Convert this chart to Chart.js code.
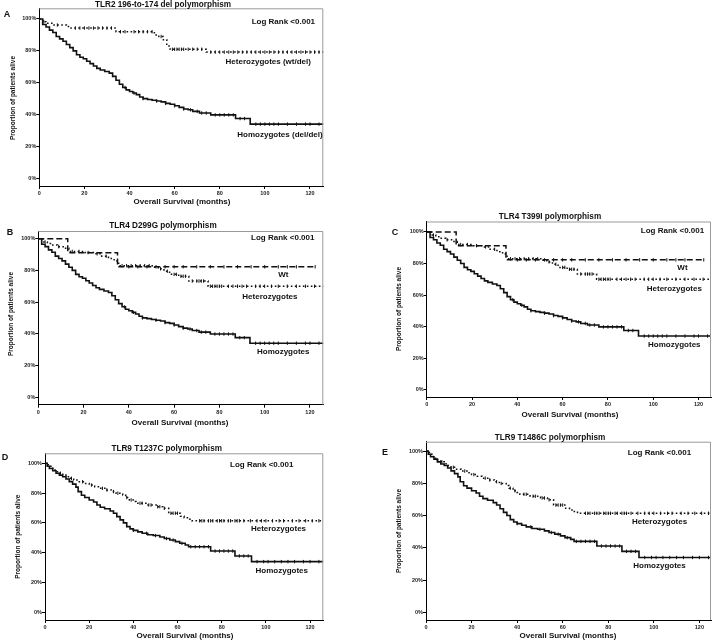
<!DOCTYPE html>
<html><head><meta charset="utf-8">
<script src="https://cdn.jsdelivr.net/npm/chart.js@4.4.1/dist/chart.umd.min.js"></script>
<style>html,body{margin:0;padding:0;background:#fff;}#wrap{position:relative;width:716px;height:642px;overflow:hidden;background:#fff;}canvas{position:absolute;left:0;top:0;}</style>
</head><body><div id="wrap"></div>
<script>
// ---- tick labels ----
const xTicks = [0,20,40,60,80,100,120];
const yTicks = [0,20,40,60,80,100];

// ---- Homozygotes (panels A, B, C) ----
const homoABC_t = [0,1.5,3,4.5,6,7.5,9,10.5,12,13.5,15,16.5,18,19.5,21,22.5,24,25.5,27,29,31,32.5,34,35.5,37,38.5,40,41.5,43,44.5,46,48,50,52,54,56,58,60,62,64,66,68,71,76,87,93.5];
const homoABC_s = [100,96.5,95,93,91.5,89,87.5,86,84,82,80,77.5,76,75,73.5,72,70.5,69,68,67,66,64,61.5,59,57,55.5,54.5,53.5,52.5,51,50,49.5,49,48.5,48,47,46.5,45.5,44.5,43.5,43,42,41,39.8,37.5,34];
const homoABC_c = [38,42,46,52,56,60,64,67,70,72,74,78,80,82,84,86,89,91,96,98,100,102,104,106,110,114,118,120,124];
const homoABC_end = 126;

// ---- Heterozygotes (wt/del), panel A ----
const hetA_t = [0,1.5,3,6,12,14,34,51,53,55,56.5,58,74];
const hetA_s = [100,98.3,97.3,96.2,95.2,94.3,92,90,89,87,83,81,79.2];
const hetA_c = [2,8,16,18,20,22,24,26,28,30,32,36,38,42,44,46,48,50,54,59,60,61,62,63,64,66,68,70,72,76,78,80,82,84,86,88,90,92,94,96,98,100,102,104,106,108,110,112,114,116,118,120,122,124];
const hetA_end = 126;

// ---- Wt (panels B, C) ----
const wt_t = [0,13,35];
const wt_s = [100,91.2,82.3];
const wt_c = [40,44,48,52,56,60,64,70,76,82,88,94,100,106,110,114,122.3];
const wt_end = 122.3;

// ---- Heterozygotes (panels B, C) ----
const hetBC_t = [0,2,4,6,8.5,11,13.5,20,25,28,31,33.5,35.5,51,53,55.5,58,62,66.5,75];
const hetBC_s = [100,98,97,96,95,94,92,91.3,90.5,89,87.5,86,83,82,81,79.5,77.5,76.3,73.3,70];
const hetBC_c = [3,9,15,18,22,26,30,37,39,41,43,45,47,49,54,57,60,61,63,64,65,68,70,71,72,73,76,77,78,79,80,81,84,86,88,90,92,96,98,100,103,106,110,114,118,122];
const hetBC_end = 126;

// ---- Homozygotes (panels D, E) ----
const homoDE_t = [0,1,2,3.5,5,6.5,8,9.5,11,12.5,14,15,16.5,18,20,22,23.5,25,27,29.5,31,32.5,34,35.5,37,38.5,40,42,44,46.5,49,52,54,56.5,59,61,63.5,65,75,86,93.5];
const homoDE_s = [100,98,96.5,95,93.3,92,91,89.5,87.7,86,84,81,78.5,77,75.4,74,72,70.5,69.5,68,66.5,64.2,62,60,57.5,56,55,54,53,52,51.5,50.5,49.5,48.5,47.4,46.3,45.2,44,41.1,37.8,34];
const homoDE_c = [40,46,50,55,58,62,66,68,70,72,74,77,79,81,83,85,88,90,92,96,99,101,104,107,110,113,117,120,124];
const homoDE_end = 126;

// ---- Heterozygotes (panels D, E) ----
const hetDE_t = [0,1.5,2.7,4,5,6.5,8,9.5,11,13,15.5,18,20,22.5,24.6,27.6,30,32.2,35.2,36.5,38.2,40,41.2,45.7,50.3,53.3,56,61.3,63,64.5,66.5];
const hetDE_s = [100,98,96.6,95.5,94.4,93.3,92.1,91,89.9,88.7,87.6,86.5,85.4,84.3,83.2,82.1,81,79.9,78.7,77,75.4,74.3,73.2,72,70.9,69.8,66.5,64.5,63.5,62.5,61.4];
const hetDE_c = [7,12,17,21,26,28,31,33,37,39,43,44,47,48,51,52,54,57,58,59,60,70,71,72,74,75,76,78,79,80,81,83,84,86,87,88,90,93,96,98,100,103,106,108,112,115,118,121,124];
const hetDE_end = 126;

// ---- texts ----
const titles = ['TLR2 196-to-174 del polymorphism','TLR4 D299G polymorphism','TLR4 T399I polymorphism','TLR9 T1237C polymorphism','TLR9 T1486C polymorphism'];
const letters = ['A','B','C','D','E'];
const xTitle = 'Overall Survival (months)';
const yTitle = 'Proportion of patients alive';
const logRank = 'Log Rank <0.001';

// ---- styles ----
const FONT = "'Liberation Sans', Arial, sans-serif";
const SOLID = {borderDash: [], borderWidth: 1.6};
const DOT = {borderDash: [1.6, 2.4], borderWidth: 1.5};
const DASH = {borderDash: [6, 3], borderWidth: 1.5};

function kmPoints(t, s, end){ const p = t.map((v,i)=>({x:v,y:s[i]})); p.push({x:end,y:s[s.length-1]}); return p; }
function kmAt(t, s, x){ let v = s[0]; for(let i=0;i<t.length;i++){ if(t[i] <= x) v = s[i]; } return v; }
function curve(t, s, c, end, style){
  return [
    Object.assign({data: kmPoints(t,s,end), stepped:'before', borderColor:'#111', pointRadius:0, pointHitRadius:0, fill:false}, style),
    {data: c.map(x=>({x:x, y:kmAt(t,s,x)})), showLine:false, pointStyle:'line', rotation:90, pointRadius:1.7, borderColor:'#111', borderWidth:1}
  ];
}

const panels = [
  {area:[39.3,8.3,323.3,186], ymin:-4.83, ymax:106.7, xmax:125.9, title:[163,5], letter:[7,15], xt:[182,202], yt:[13,98],
   curves:[curve(hetA_t,hetA_s,hetA_c,hetA_end,DOT), curve(homoABC_t,homoABC_s,homoABC_c,homoABC_end,SOLID)],
   labels:[[logRank,108.2,98.3],['Heterozygotes (wt/del)',101.5,73.2],['Homozygotes (del/del)',106.7,27.2]]},
  {area:[38.3,231,323.3,404.7], ymin:-4.86, ymax:104.9, xmax:125.9, title:[163,225.5], letter:[10,233], xt:[180,422.7], yt:[11.7,314]
   ,curves:[curve(wt_t,wt_s,wt_c,wt_end,DASH), curve(hetBC_t,hetBC_s,hetBC_c,hetBC_end,DOT), curve(homoABC_t,homoABC_s,homoABC_c,homoABC_end,SOLID)],
   labels:[[logRank,108,100.6],['Wt',108.2,77.5],['Heterozygotes',102.3,63.6],['Homozygotes',108.2,28.4]]},
  {area:[426.7,221.5,711.7,397], ymin:-4.63, ymax:106.6, xmax:125.5, title:[550,217], letter:[395,233], xt:[570,414.7], yt:[399.3,309],
   curves:[curve(wt_t,wt_s,wt_c,wt_end,DASH), curve(hetBC_t,hetBC_s,hetBC_c,hetBC_end,DOT), curve(homoABC_t,homoABC_s,homoABC_c,homoABC_end,SOLID)],
   labels:[[logRank,108.5,101],['Wt',112.9,77.2],['Heterozygotes',109.3,64],['Homozygotes',109.3,28.5]]},
  {area:[45,453.3,323.3,620], ymin:-5.17, ymax:106.7, xmax:126, title:[166.7,449], letter:[5,458], xt:[185,635.7], yt:[18.3,536.7],
   curves:[curve(hetDE_t,hetDE_s,hetDE_c,hetDE_end,DOT), curve(homoDE_t,homoDE_s,homoDE_c,homoDE_end,SOLID)],
   labels:[[logRank,98.1,98.9],['Heterozygotes',105.7,55.7],['Homozygotes',107.2,27.9]]},
  {area:[426,441.7,711.7,620], ymin:-4.77, ymax:105.8, xmax:125.1, title:[550,438], letter:[385,453], xt:[568,635.7], yt:[399.3,531],
   curves:[curve(hetDE_t,hetDE_s,hetDE_c,hetDE_end,DOT), curve(homoDE_t,homoDE_s,homoDE_c,homoDE_end,SOLID)],
   labels:[[logRank,102.5,99.2],['Heterozygotes',102.5,56.2],['Homozygotes',102.5,28.9]]}
];

const panelText = {
  id:'panelText',
  afterDraw(chart, args, o){
    const ctx = chart.ctx, a = chart.chartArea, p = o.panel, i = o.index;
    ctx.save();
    ctx.strokeStyle = '#9a9a9a'; ctx.lineWidth = 1;
    ctx.beginPath(); ctx.moveTo(a.left, a.top+0.5); ctx.lineTo(a.right-0.5, a.top+0.5); ctx.lineTo(a.right-0.5, a.bottom); ctx.stroke();
    ctx.fillStyle = '#111'; ctx.textAlign = 'center'; ctx.textBaseline = 'middle';
    ctx.font = 'bold 8.2px ' + FONT;
    ctx.fillText(titles[i], p.title[0], p.title[1]);
    ctx.font = 'bold 9px ' + FONT;
    ctx.fillText(letters[i], p.letter[0], p.letter[1]);
    ctx.font = 'bold 8px ' + FONT;
    ctx.fillText(xTitle, p.xt[0], p.xt[1]);
    const xs = chart.scales.x, ys = chart.scales.y;
    p.labels.forEach(l => ctx.fillText(l[0], xs.getPixelForValue(l[1]), ys.getPixelForValue(l[2])));
    ctx.save(); ctx.translate(p.yt[0], p.yt[1]); ctx.rotate(-Math.PI/2);
    ctx.font = 'bold 6.5px ' + FONT; ctx.fillText(yTitle, 0, 0); ctx.restore();
    ctx.restore();
  }
};

const wrap = document.getElementById('wrap');
panels.forEach((p, i) => {
  const cv = document.createElement('canvas'); cv.width = 716; cv.height = 642; wrap.appendChild(cv);
  const YW = 22, XH = 16;
  const datasets = [].concat(...p.curves);
  new Chart(cv, {
    type:'line',
    data:{datasets},
    plugins:[panelText],
    options:{
      responsive:false, animation:false, events:[],
      layout:{padding:{left:p.area[0]-YW, top:p.area[1], right:716-p.area[2], bottom:642-p.area[3]-XH}},
      plugins:{legend:{display:false}, tooltip:{enabled:false}, panelText:{panel:p, index:i}},
      scales:{
        x:{type:'linear', min:0, max:p.xmax,
           afterBuildTicks: s => { s.ticks = xTicks.map(v=>({value:v})); },
           afterFit: s => { s.height = XH; },
           grid:{display:true, drawOnChartArea:false, drawTicks:true, tickLength:3, tickColor:'#000', color:'#000'},
           border:{display:true, color:'#000', width:1},
           ticks:{font:{family:FONT, size:5.5, weight:'bold'}, color:'#222', padding:1, maxRotation:0, autoSkip:false, callback: v => String(v)}},
        y:{type:'linear', min:p.ymin, max:p.ymax,
           afterBuildTicks: s => { s.ticks = yTicks.map(v=>({value:v})); },
           afterFit: s => { s.width = YW; },
           grid:{display:true, drawOnChartArea:false, drawTicks:true, tickLength:3, tickColor:'#000', color:'#000'},
           border:{display:true, color:'#000', width:1},
           ticks:{font:{family:FONT, size:5.5, weight:'bold'}, color:'#222', padding:0, autoSkip:false, callback: v => v + '%'}}
      }
    }
  });
});
</script></body></html>
